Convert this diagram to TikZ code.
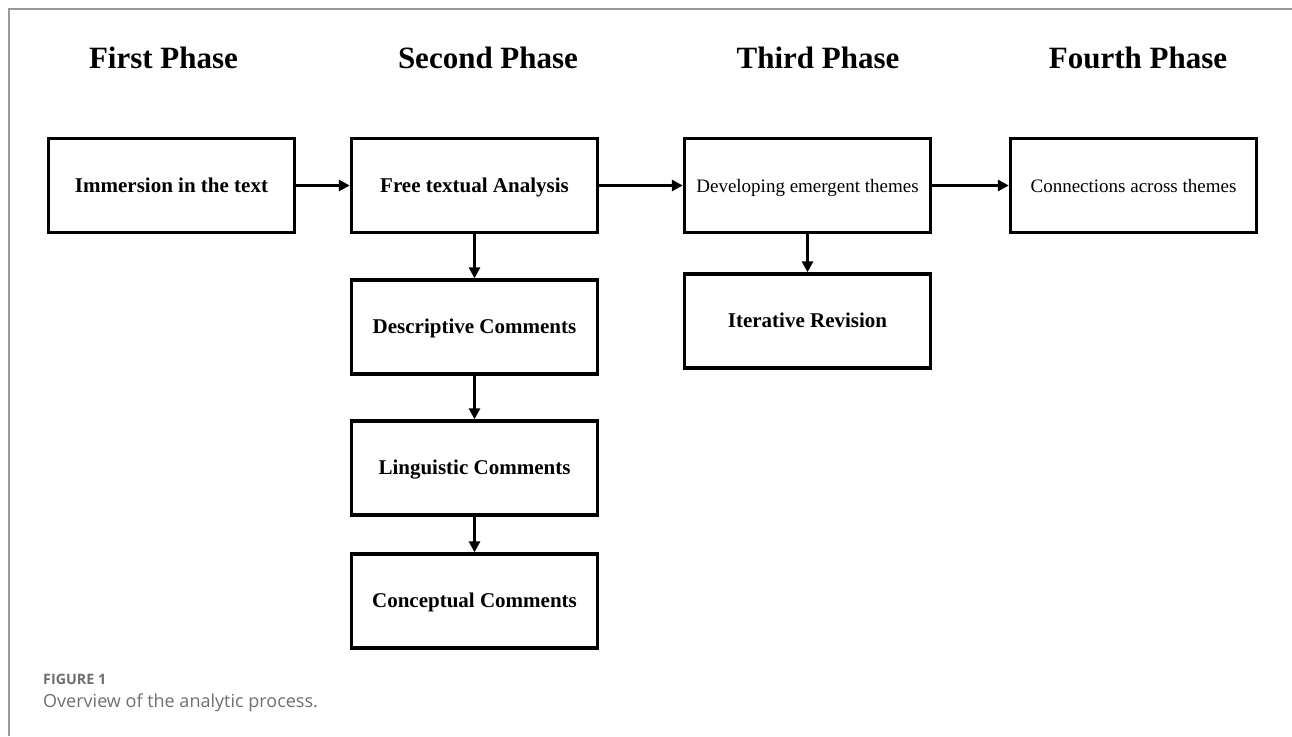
\documentclass[tikz,border=0pt]{standalone}
\usepackage{fontspec}
\setmainfont{Liberation Serif}
\newfontfamily\capfont{Open Sans}
\usetikzlibrary{arrows.meta}
\definecolor{framegray}{HTML}{9A9A9A}
\definecolor{capgray}{HTML}{6E6E6E}
\tikzset{
  box/.style={draw=black, line width=3.4pt, rectangle, minimum width=246pt, minimum height=94pt, inner sep=0pt, text height=16pt, text depth=3pt, font=\fontsize{21}{24}\selectfont\bfseries},
  boxr/.style={box, font=\fontsize{19}{22}\selectfont},
  phase/.style={font=\fontsize{31}{36}\selectfont\bfseries, inner sep=0pt},
  conn/.style={line width=3pt, -{Triangle[length=11pt,width=11pt]}},
}
\begin{document}
\begin{tikzpicture}[x=1pt,y=-1pt]
\useasboundingbox (0,0) rectangle (1292,736);
\draw[framegray, line width=1.5pt] (9,736) -- (9,9) -- (1292,9);
\node[phase] (p1) at (163.5,58) {First Phase};
\node[phase] (p2) at (488,58) {Second Phase};
\node[phase] (p3) at (818,58) {Third Phase};
\node[phase] (p4) at (1138,58) {Fourth Phase};
\node[box] (imm) at (171.5,185.5) {Immersion in the text};
\node[box] (free) at (474.5,185.5) {Free textual Analysis};
\node[boxr] (dev) at (807.5,185.5) {Developing emergent themes};
\node[boxr] (con) at (1133.5,185.5) {Connections across themes};
\node[box] (desc) at (474.5,327) {Descriptive Comments};
\node[box] (ling) at (474.5,468) {Linguistic Comments};
\node[box] (conc) at (474.5,601) {Conceptual Comments};
\node[box] (iter) at (807.5,321) {Iterative Revision};
\draw[conn] (imm) -- (free);
\draw[conn] (free) -- (dev);
\draw[conn] (dev) -- (con);
\draw[conn] (free) -- (desc);
\draw[conn] (desc) -- (ling);
\draw[conn] (ling) -- (conc);
\draw[conn] (dev) -- (iter);
\node[anchor=base west, inner sep=0pt, text=capgray, font=\capfont\fontsize{14.3}{16}\selectfont\bfseries] (cap1) at (43,684) {FIGURE 1};
\node[anchor=base west, inner sep=0pt, text=capgray, font=\capfont\fontsize{18}{21}\selectfont] (cap2) at (43,707) {Overview of the analytic process.};
\end{tikzpicture}
\end{document}
